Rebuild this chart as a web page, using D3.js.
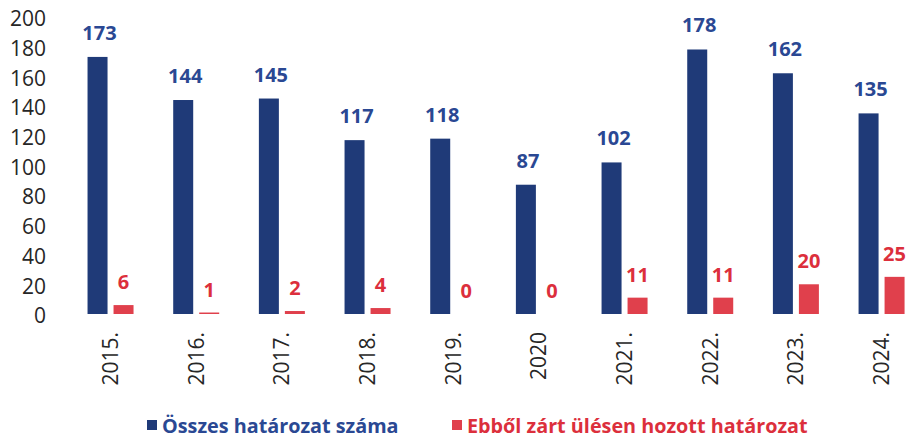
<!DOCTYPE html>
<html>
<head>
<meta charset="utf-8">
<script src="https://cdn.jsdelivr.net/npm/d3@7"></script>
<style>
  html, body { margin: 0; padding: 0; background: #ffffff; }
  svg { display: block; }
</style>
</head>
<body>
<svg id="chart" width="906" height="440"></svg>
<script>
const categories = ["2015.", "2016.", "2017.", "2018.", "2019.", "2020", "2021.", "2022.", "2023.", "2024."];
const totalDecisions = [173, 144, 145, 117, 118, 87, 102, 178, 162, 135];
const closedSessionDecisions = [6, 1, 2, 4, 0, 0, 11, 11, 20, 25];
const yTicks = [0, 20, 40, 60, 80, 100, 120, 140, 160, 180, 200];
const seriesNames = ["Összes határozat száma", "Ebből zárt ülésen hozott határozat"];

const blue = "#1f3a78";
const blueText = "#2a4893";
const red = "#e0404c";
const redText = "#dc2f3c";
const font = "'Open Sans', 'Noto Sans', sans-serif";

const svg = d3.select("#chart");

const step = 85.67;
const x = d3.scaleBand()
  .domain(categories)
  .range([67.7, 67.7 + step * categories.length])
  .paddingInner(0).paddingOuter(0);

const xs = d3.scaleBand()
  .domain(["total", "closed"])
  .range([0, x.bandwidth()])
  .paddingInner(0.2308)
  .paddingOuter(0.763);

const y = d3.scaleLinear().domain([0, 200]).range([314, 16.8]);

// Y axis labels (no line)
const yAxis = d3.axisLeft(y).tickValues(yTicks).tickSize(0).tickPadding(0);
const gy = svg.append("g").attr("transform", "translate(46,0)").call(yAxis);
gy.select(".domain").remove();
gy.selectAll("text")
  .attr("font-family", font).attr("font-size", 21).attr("fill", "#262626")
  .attr("dy", "0.42em");

// X axis labels rotated
const xAxis = d3.axisBottom(x).tickSize(0).tickPadding(0);
const gx = svg.append("g").attr("transform", "translate(0,332)").call(xAxis);
gx.select(".domain").remove();
gx.selectAll("text")
  .attr("font-family", font).attr("font-size", 21).attr("fill", "#262626")
  .attr("transform", "rotate(-90)")
  .attr("text-anchor", "end")
  .attr("x", 0).attr("y", 0).attr("dy", "0.36em");

const data = categories.map((c, i) => ({ c, total: totalDecisions[i], closed: closedSessionDecisions[i] }));

const groups = svg.append("g").selectAll("g").data(data).join("g")
  .attr("transform", d => `translate(${x(d.c)},0)`);

groups.append("rect")
  .attr("x", xs("total")).attr("width", xs.bandwidth())
  .attr("y", d => y(d.total)).attr("height", d => y(0) - y(d.total))
  .attr("fill", blue);

groups.append("rect")
  .attr("x", xs("closed")).attr("width", xs.bandwidth())
  .attr("y", d => y(d.closed)).attr("height", d => y(0) - y(d.closed))
  .attr("fill", red);

groups.append("text")
  .attr("x", xs("total") + xs.bandwidth() / 2 + 2)
  .attr("y", d => y(d.total) - 17)
  .attr("text-anchor", "middle")
  .attr("font-family", font).attr("font-size", 20).attr("font-weight", 700)
  .attr("fill", blueText)
  .text(d => d.total);

groups.append("text")
  .attr("x", xs("closed") + xs.bandwidth() / 2)
  .attr("y", d => y(d.closed) - 16)
  .attr("text-anchor", "middle")
  .attr("font-family", font).attr("font-size", 20).attr("font-weight", 700)
  .attr("fill", redText)
  .text(d => d.closed);

// Legend
const legend = [
  { name: seriesNames[0], color: blue, textColor: blueText, x: 147 },
  { name: seriesNames[1], color: red, textColor: redText, x: 452 }
];
const lg = svg.append("g").selectAll("g").data(legend).join("g")
  .attr("transform", d => `translate(${d.x},0)`);
lg.append("rect").attr("x", 0).attr("y", 420).attr("width", 10).attr("height", 10).attr("fill", d => d.color);
lg.append("text").attr("x", 15).attr("y", 433)
  .attr("font-family", font).attr("font-size", 19.8).attr("font-weight", 700)
  .attr("fill", d => d.textColor)
  .text(d => d.name);
</script>
</body>
</html>
